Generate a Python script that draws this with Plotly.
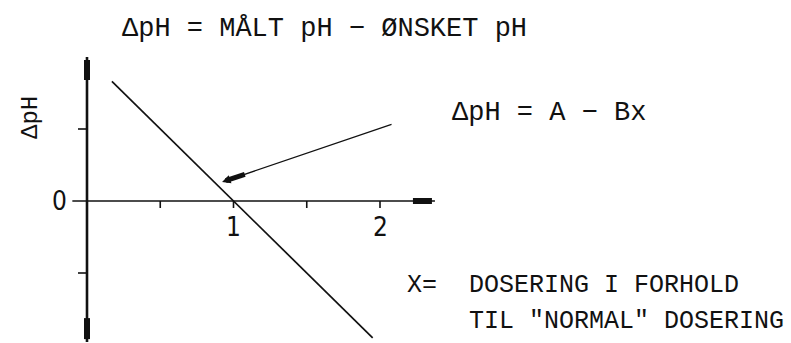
import plotly.graph_objects as go

# ---- data ----
line_x = [0.17, 1.95]          # dosing ratio x
line_y = [0.83, -0.95]         # ΔpH = A - Bx
x_ticks = [0.5, 1.0, 1.5, 2.0]
x_tick_labels = ["", "1", "", "2"]
y_ticks = [0.5, -0.5]
y_zero_label = "0"
pointer_tail = [2.089, 0.535]
pointer_head = [0.922, 0.132]

W, H = 791, 343
X0PX, Y0PX = 87, 201
SX, SY = 146.5, 144.0
xr = [-X0PX / SX, (W - X0PX) / SX]
yr = [-(H - Y0PX) / SY, Y0PX / SY]

MONO = "Liberation Mono, DejaVu Sans Mono, monospace"
NARROW = "Liberation Sans Narrow, DejaVu Sans Condensed, Liberation Sans, sans-serif"
INK = "#111111"

fig = go.Figure()

# main relation line
fig.add_trace(go.Scatter(x=line_x, y=line_y, mode="lines",
                         line=dict(color=INK, width=1.7), hoverinfo="skip", showlegend=False))

shapes = []
# x axis
x_ax = [-0.1, 2.375]
shapes.append(dict(type="line", xref="x", yref="y", x0=x_ax[0], x1=x_ax[1], y0=0, y1=0,
                   line=dict(color=INK, width=1.6)))
shapes.append(dict(type="line", xref="x", yref="y", x0=x_ax[1] - 22 / SX, x1=x_ax[1] - 3 / SX, y0=0, y1=0,
                   line=dict(color=INK, width=6)))
# y axis
y_ax = [-0.98, 1.0]
shapes.append(dict(type="line", xref="x", yref="y", x0=0, x1=0, y0=y_ax[0], y1=y_ax[1],
                   line=dict(color=INK, width=2.6)))
shapes.append(dict(type="line", xref="x", yref="y", x0=0, x1=0, y0=y_ax[1] - 3 / SY, y1=y_ax[1] - 23 / SY,
                   line=dict(color=INK, width=6)))
shapes.append(dict(type="line", xref="x", yref="y", x0=0, x1=0, y0=y_ax[0] + 3 / SY, y1=y_ax[0] + 24 / SY,
                   line=dict(color=INK, width=6)))
# ticks
for t in x_ticks:
    shapes.append(dict(type="line", xref="x", yref="y", ysizemode="pixel", yanchor=0,
                       x0=t, x1=t, y0=0, y1=-7, line=dict(color=INK, width=1.6)))
for t in y_ticks:
    shapes.append(dict(type="line", xref="x", yref="y", xsizemode="pixel", xanchor=0,
                       x0=-9, x1=0, y0=t, y1=t, line=dict(color=INK, width=1.6)))

# pointer arrow: thick part near the head
dx = pointer_tail[0] - pointer_head[0]
dy = pointer_tail[1] - pointer_head[1]
plen = ((dx * SX) ** 2 + (dy * SY) ** 2) ** 0.5
frac = 24 / plen
shapes.append(dict(type="line", xref="x", yref="y",
                   x0=pointer_head[0] + dx * 4 / plen, y0=pointer_head[1] + dy * 4 / plen,
                   x1=pointer_head[0] + dx * frac, y1=pointer_head[1] + dy * frac,
                   line=dict(color=INK, width=5)))

annotations = []
annotations.append(dict(x=pointer_head[0], y=pointer_head[1], xref="x", yref="y",
                        ax=pointer_tail[0], ay=pointer_tail[1], axref="x", ayref="y",
                        text="", showarrow=True, arrowhead=2, arrowsize=1.3, arrowwidth=1.3,
                        arrowcolor=INK))

for t, lab in zip(x_ticks, x_tick_labels):
    if lab:
        annotations.append(dict(x=t, y=0, xref="x", yref="y", text=lab, showarrow=False,
                                yshift=-26, font=dict(family=NARROW, size=26, color=INK)))
annotations.append(dict(x=0, y=0, xref="x", yref="y", text=y_zero_label, showarrow=False,
                        xshift=-28, font=dict(family=NARROW, size=26, color=INK)))


def px(xp, yp):
    return xp / W, 1 - yp / H


def text_at(s, xp, yp, size, anchor="left", angle=0):
    x, y = px(xp, yp)
    annotations.append(dict(x=x, y=y, xref="paper", yref="paper", text=s, showarrow=False,
                            xanchor=anchor, yanchor="middle", textangle=angle,
                            font=dict(family=MONO, size=size, color=INK)))


text_at("ΔpH = MÅLT pH − ØNSKET pH", 120, 29, 27)
text_at("ΔpH = A − Bx", 450, 113, 27)
text_at("X=", 405, 285, 25)
text_at("DOSERING I FORHOLD", 467, 285, 25)
text_at("TIL \"NORMAL\" DOSERING", 467, 321, 25)
text_at("ΔpH", 30, 118, 24, anchor="center", angle=-90)

fig.update_layout(
    width=W, height=H,
    margin=dict(l=0, r=0, t=0, b=0),
    paper_bgcolor="white", plot_bgcolor="white",
    xaxis=dict(range=xr, visible=False, fixedrange=True),
    yaxis=dict(range=yr, visible=False, fixedrange=True),
    shapes=shapes, annotations=annotations,
    showlegend=False,
)

fig.write_html("out.html", config={"displayModeBar": False},
               post_script="document.body.style.margin='0';document.body.style.overflow='hidden';")
